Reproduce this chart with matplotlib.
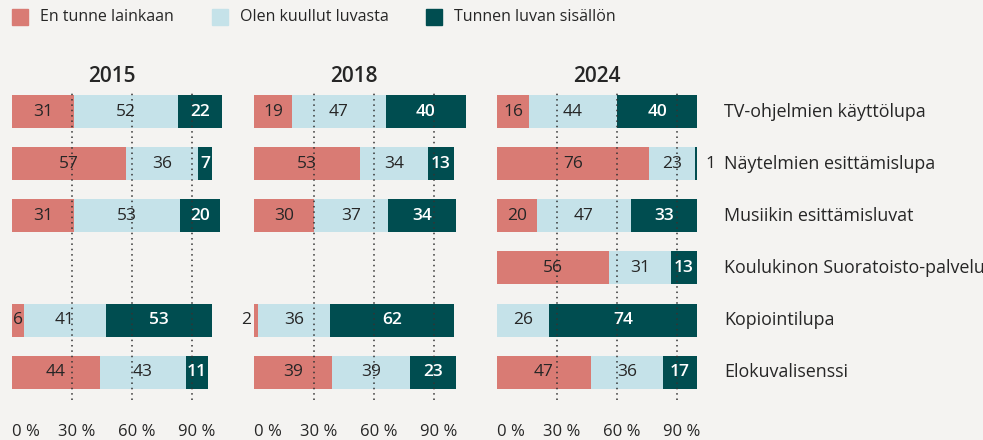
import matplotlib.pyplot as plt
from matplotlib.patches import Rectangle
from matplotlib.transforms import ScaledTranslation

# data
years = ["2015", "2018", "2024"]
categories = [
    "TV-ohjelmien käyttölupa",
    "Näytelmien esittämislupa",
    "Musiikin esittämisluvat",
    "Koulukinon Suoratoisto-palvelu",
    "Kopiointilupa",
    "Elokuvalisenssi",
]
series_names = ["En tunne lainkaan", "Olen kuullut luvasta", "Tunnen luvan sisällön"]

# None = no data for that year
not_known = {
    "2015": [31, 57, 31, None, 6, 44],
    "2018": [19, 53, 30, None, 2, 39],
    "2024": [16, 76, 20, 56, 0, 47],
}
heard = {
    "2015": [52, 36, 53, None, 41, 43],
    "2018": [47, 34, 37, None, 36, 39],
    "2024": [44, 23, 47, 31, 26, 36],
}
knows = {
    "2015": [22, 7, 20, None, 53, 11],
    "2018": [40, 13, 34, None, 62, 23],
    "2024": [40, 1, 33, 13, 74, 17],
}
ticks = [0, 30, 60, 90]
tick_labels = ["0 %", "30 %", "60 %", "90 %"]

colors = ["#d97b74", "#c5e2e9", "#004d50"]
text_colors = ["#262626", "#262626", "white"]
BG = "#f4f3f1"
FONT = "Open Sans"
TXT = "#262626"

W, H = 983, 440
fig = plt.figure(figsize=(W / 100, H / 100), dpi=100, facecolor=BG)

# legend
leg_x = [12, 212, 426]
for i, name in enumerate(series_names):
    fig.patches.append(Rectangle((leg_x[i] / W, 1 - 25 / H), 16 / W, 16 / H,
                                 transform=fig.transFigure, color=colors[i]))
    fig.text((leg_x[i] + 28) / W, 1 - 17 / H, name, fontsize=11.5, family=FONT,
             color=TXT, va="center", ha="left")

panel_left = [12, 254, 497]
top_px, bottom_px = 90, 400
row_y0, row_step = 112, 52
bar_h = 33 / row_step
NUM_FS = 12.5

for p, year in enumerate(years):
    ax = fig.add_axes([panel_left[p] / W, (H - bottom_px) / H, 200 / W,
                       (bottom_px - top_px) / H])
    ax.set_facecolor("none")
    ax.set_xlim(0, 100)
    ax.set_ylim((bottom_px - row_y0) / row_step, (top_px - row_y0) / row_step)

    for r in range(len(categories)):
        vals = [not_known[year][r], heard[year][r], knows[year][r]]
        if vals[0] is None:
            continue
        left = 0
        for s, v in enumerate(vals):
            if v > 0:
                ax.barh(r, v, left=left, height=bar_h, color=colors[s],
                        clip_on=False, zorder=2)
            if v > 2:
                ax.text(left + v / 2, r, str(v), ha="center", va="center",
                        fontsize=NUM_FS, family=FONT, color=text_colors[s],
                        weight="semibold" if s == 2 else "normal", zorder=5)
            elif v > 0:
                if s == 0:
                    ax.text(left - 1.5, r, str(v), ha="right", va="center",
                            fontsize=NUM_FS, family=FONT, color=TXT, zorder=5)
                else:
                    ax.text(left + v + 4, r, str(v), ha="left", va="center",
                            fontsize=NUM_FS, family=FONT, color=TXT, zorder=5)
            left += v

    for t in ticks[1:]:
        ax.axvline(t, color="#333333", linestyle=(0, (1, 2.5)), linewidth=1.1,
                   zorder=4)

    ax.text(50, (77 - row_y0) / row_step, year, ha="center", va="center",
            fontsize=15, family=FONT, weight="semibold", color=TXT)

    ax.set_xticks(ticks)
    ax.set_xticklabels(tick_labels, family=FONT, fontsize=12, color=TXT)
    ax.tick_params(axis="x", length=0, pad=17)
    for i, lab in enumerate(ax.get_xticklabels()):
        if i == 0:
            lab.set_ha("left")
        else:
            lab.set_transform(lab.get_transform() +
                              ScaledTranslation(5 / 100, 0, fig.dpi_scale_trans))
    ax.set_yticks([])
    for sp in ax.spines.values():
        sp.set_visible(False)

    if p == 2:
        for r, cat in enumerate(categories):
            ax.text((724 - panel_left[2]) / 2, r, cat, ha="left", va="center",
                    fontsize=12.9, family=FONT, color=TXT)

fig.savefig("out.png", dpi=100, facecolor=BG)
